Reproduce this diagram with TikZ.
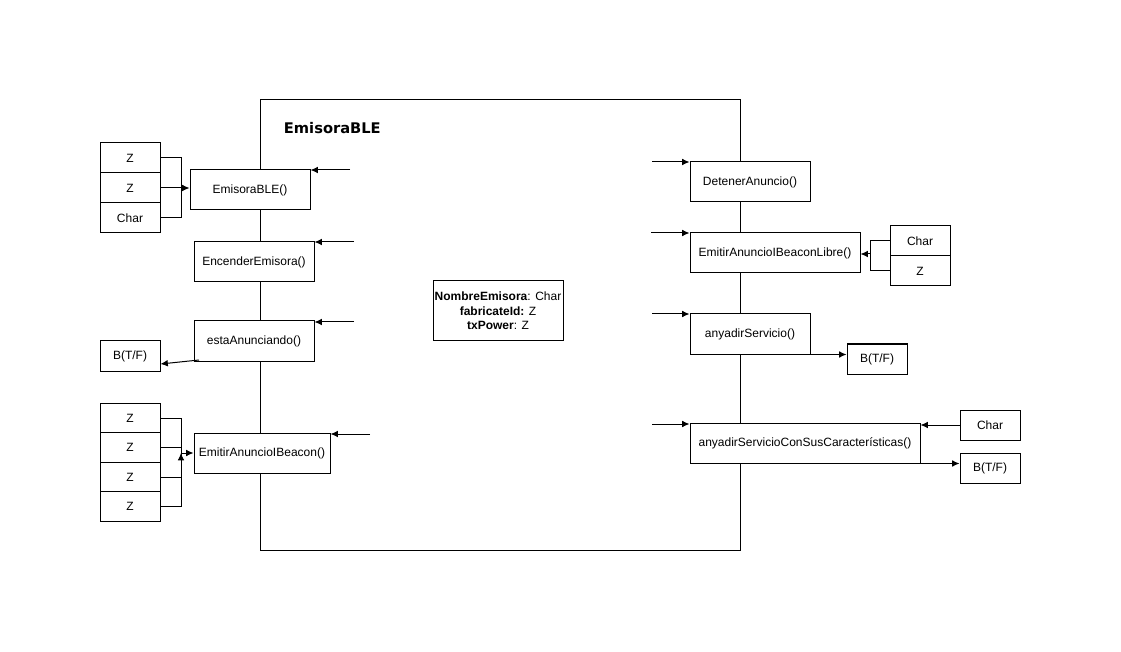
\documentclass[tikz,border=0pt]{standalone}
\usepackage{fontspec}
\setmainfont{Liberation Sans}
\newfontfamily\titlefont{DejaVu Sans}
\usetikzlibrary{positioning}
\usetikzlibrary{arrows.meta}

\tikzset{
  method/.style={draw, fill=white, minimum height=30pt, inner sep=2pt},
  param/.style={draw, fill=white, minimum width=45pt, minimum height=22.5pt, inner sep=2pt},
}

\begin{document}
\begin{tikzpicture}[x=0.75pt, y=-0.75pt, >={Latex[length=5.5pt,width=5pt]}, line width=0.75pt, font=\fontsize{9}{11}\selectfont]
      \useasboundingbox (0,0) rectangle (1121,652);
      % main block
      \draw (260,100) rectangle (740,550);
      \node[anchor=west, font=\titlefont\bfseries\fontsize{11}{13}\selectfont] (title) at (279,128) {EmisoraBLE};
      \node[draw, minimum width=97.5pt, minimum height=45pt, inner sep=1pt, align=center] (attrs) at (498,311)
        {\textbf{NombreEmisora}: Char\\ \textbf{fabricateId:} Z\\ \textbf{txPower}: Z};

      % left methods
      \node[method, minimum width=90pt]  (mEmisora)   at (250,190) {EmisoraBLE()};
      \node[method, minimum width=90pt]  (mEncender)  at (254,262) {EncenderEmisora()};
      \node[method, minimum width=90pt]  (mAnunciando) at (254,341) {estaAnunciando()};
      \node[method, minimum width=102pt] (mBeacon)    at (262,453) {EmitirAnuncioIBeacon()};

      % right methods
      \node[method, minimum width=90pt]    (mDetener)  at (750,182) {DetenerAnuncio()};
      \node[method, minimum width=127.5pt] (mLibre)    at (775,253) {EmitirAnuncioIBeaconLibre()};
      \node[method, minimum width=90pt]    (mServicio) at (750,334) {anyadirServicio()};
      \node[method, minimum width=172.5pt] (mCaract)   at (805,443) {anyadirServicioConSusCaracterísticas()};

      % parameters and results
      \node[param] (pZa)   at (130,158) {Z};
      \node[param] (pZb)   at (130,188) {Z};
      \node[param] (pChar) at (130,218) {Char};
      \node[param] (retL)  at (130,356) {B(T/F)};
      \node[param] (z1) at (130,418) {Z};
      \node[param] (z2) at (130,447) {Z};
      \node[param] (z3) at (130,477) {Z};
      \node[param] (z4) at (130,506) {Z};
      \node[param] (rChar) at (920,241) {Char};
      \node[param] (rZ)    at (920,271) {Z};
      \node[param] (retA)  at (877,359) {B(T/F)};
      \node[param] (cChar) at (990,425) {Char};
      \node[param] (retB)  at (990,468) {B(T/F)};

      \coordinate (jA) at (181,188);
      \coordinate (jB) at (181,453);
      \coordinate (jC) at (870,254);
      \coordinate (outL) at (199,360);

      % incoming calls
      \coordinate (inA) at (350,170);
      \coordinate (inB) at (354,242);
      \coordinate (inC) at (354,322);
      \coordinate (inD) at (370,434);
      \coordinate (inE) at (652,162);
      \coordinate (inF) at (651,233);
      \coordinate (inG) at (652,314);
      \coordinate (inH) at (652,424);
      \draw[->] (inA) -- (inA -| mEmisora.east);
      \draw[->] (inB) -- (inB -| mEncender.east);
      \draw[->] (inC) -- (inC -| mAnunciando.east);
      \draw[->] (inD) -- (inD -| mBeacon.east);
      \draw[->] (inE) -- (inE -| mDetener.west);
      \draw[->] (inF) -- (inF -| mLibre.west);
      \draw[->] (inG) -- (inG -| mServicio.west);
      \draw[->] (inH) -- (inH -| mCaract.west);

      % arguments
      \draw (pZa.east) -| (jA);
      \draw (pChar.east) -| (jA);
      \draw[->] (pZb.east) -- (pZb.east -| mEmisora.west);
      \draw (z1.east) -| (jB);
      \draw (z2.east) -| (jB);
      \draw (z3.east) -| (jB);
      \draw[->] (z4.east) -| (jB);
      \draw[->] (jB) -- (jB -| mBeacon.west);
      \draw (rChar.west) -| (jC);
      \draw (rZ.west) -| (jC);
      \draw[->] (jC) -- (jC -| mLibre.east);
      \draw[->] (cChar.west) -- (cChar.west -| mCaract.east);

      % results
      \draw[->] (outL) -- ([yshift=-6pt]retL.east);
      \draw[->] (mServicio.south east) -- (mServicio.south east -| retA.west);
      \draw[->] (mCaract.south east) -- (mCaract.south east -| retB.west);
\end{tikzpicture}
\end{document}
